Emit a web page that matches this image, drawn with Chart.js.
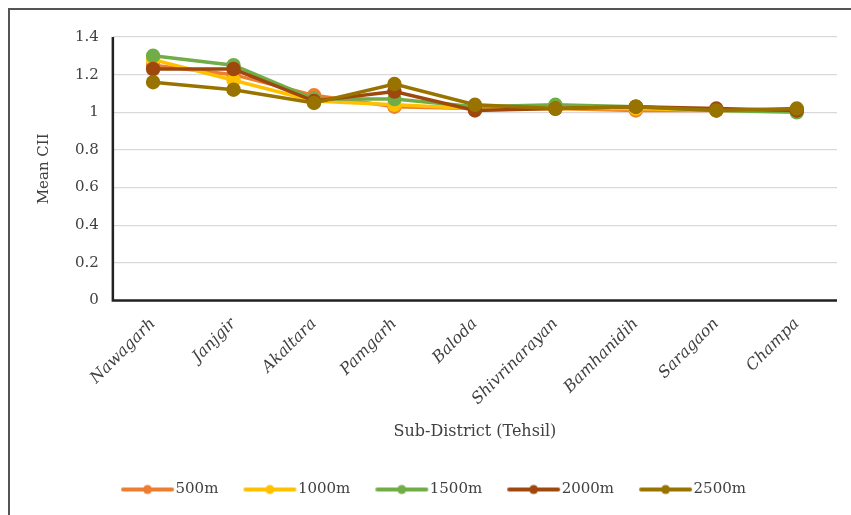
<!DOCTYPE html>
<html>
<head>
<meta charset="utf-8">
<script src="https://cdn.jsdelivr.net/npm/chart.js@4"></script>
<style>
  body { margin: 0; background: #fff; }
  #wrap { position: relative; width: 851px; height: 515px; }
  #frame { position: absolute; left: 8px; top: 8px; right: -4px; bottom: -4px; border-left: 2px solid #555; border-top: 2px solid #555; }
</style>
</head>
<body>
<div id="wrap">
  <div id="frame"></div>
  <canvas id="cii" width="851" height="515"></canvas>
</div>
<script>
// Mean CII per tehsil for each buffer distance
const tehsils = ['Nawagarh', 'Janjgir', 'Akaltara', 'Pamgarh', 'Baloda', 'Shivrinarayan', 'Bamhanidih', 'Saragaon', 'Champa'];
const seriesNames = ['500m', '1000m', '1500m', '2000m', '2500m'];
const m500  = [1.25, 1.20, 1.09, 1.03, 1.02, 1.02, 1.01, 1.01, 1.01];
const m1000 = [1.28, 1.17, 1.06, 1.04, 1.02, 1.02, 1.02, 1.01, 1.01];
const m1500 = [1.30, 1.25, 1.07, 1.07, 1.03, 1.04, 1.03, 1.01, 1.00];
const m2000 = [1.23, 1.23, 1.06, 1.11, 1.01, 1.02, 1.03, 1.02, 1.01];
const m2500 = [1.16, 1.12, 1.05, 1.15, 1.04, 1.02, 1.03, 1.01, 1.02];
const yTicks = [0, 0.2, 0.4, 0.6, 0.8, 1, 1.2, 1.4];

const colors = ['#ED7D31', '#FFC000', '#70AD47', '#9E480E', '#997300'];
const values = [m500, m1000, m1500, m2000, m2500];

// little line+dot image for the legend, like Excel's
// (canvas is wider than the legend box so the line sits close to the text)
function legendMark(color) {
    const c = document.createElement('canvas');
    c.width = 60; c.height = 12;
    const g = c.getContext('2d');
    g.strokeStyle = color;
    g.lineWidth = 4;
    g.lineCap = 'round';
    g.beginPath(); g.moveTo(8, 6); g.lineTo(57, 6); g.stroke();
    g.fillStyle = color;
    g.beginPath(); g.arc(32.5, 6, 4.5, 0, Math.PI * 2); g.fill();
    return c;
}

const serif = "'DejaVu Serif', 'Liberation Serif', serif";
const textCol = '#404040';

// dark axis lines on left and bottom
const axisLines = {
    id: 'axisLines',
    afterDatasetsDraw(chart) {
        const a = chart.chartArea;
        const ctx = chart.ctx;
        ctx.save();
        ctx.strokeStyle = '#222';
        ctx.lineWidth = 2.5;
        ctx.beginPath();
        ctx.moveTo(a.left, a.top);
        ctx.lineTo(a.left, a.bottom);
        ctx.lineTo(a.right, a.bottom);
        ctx.stroke();
        ctx.restore();
    }
};

const ctx = document.getElementById('cii').getContext('2d');
new Chart(ctx, {
    type: 'line',
    data: {
        labels: tehsils,
        datasets: seriesNames.map((name, i) => ({
            label: name,
            data: values[i],
            borderColor: colors[i],
            backgroundColor: colors[i],
            pointBackgroundColor: colors[i],
            pointBorderColor: colors[i],
            pointStyle: 'circle',
            borderWidth: 3.5,
            pointRadius: 5.5,
            tension: 0,
            order: seriesNames.length - i   // later series drawn on top
        }))
    },
    options: {
        responsive: false,
        animation: false,
        layout: { padding: { left: 31, top: 37, right: 14, bottom: 8 } },
        scales: {
            x: {
                offset: true,
                grid: { display: false },
                border: { display: false },
                ticks: {
                    minRotation: 45,
                    maxRotation: 45,
                    color: textCol,
                    padding: 6,
                    font: { family: serif, size: 16, style: 'italic' }
                },
                title: {
                    display: true,
                    text: 'Sub-District (Tehsil)',
                    color: textCol,
                    padding: { top: 7, bottom: 15 },
                    font: { family: serif, size: 16 }
                }
            },
            y: {
                min: 0,
                max: 1.4,
                afterBuildTicks: axis => { axis.ticks = yTicks.map(v => ({ value: v })); },
                grid: { color: '#d9d9d9', lineWidth: 1.2, drawTicks: false },
                border: { display: false },
                ticks: {
                    color: textCol,
                    padding: 14,
                    font: { family: serif, size: 15 },
                    callback: v => String(v)
                },
                title: {
                    display: true,
                    text: 'Mean CII',
                    color: textCol,
                    padding: { bottom: 8 },
                    font: { family: serif, size: 15 }
                }
            }
        },
        plugins: {
            legend: {
                position: 'bottom',
                labels: {
                    usePointStyle: true,
                    pointStyleWidth: 46,
                    padding: 26,
                    color: textCol,
                    font: { family: serif, size: 15 },
                    generateLabels: chart => chart.data.datasets.map((ds, i) => ({
                        text: ds.label,
                        fillStyle: ds.borderColor,
                        strokeStyle: ds.borderColor,
                        pointStyle: legendMark(ds.borderColor),
                        fontColor: textCol,
                        lineWidth: 0,
                        datasetIndex: i
                    }))
                }
            },
            tooltip: { enabled: false }
        }
    },
    plugins: [axisLines]
});
</script>
</body>
</html>
